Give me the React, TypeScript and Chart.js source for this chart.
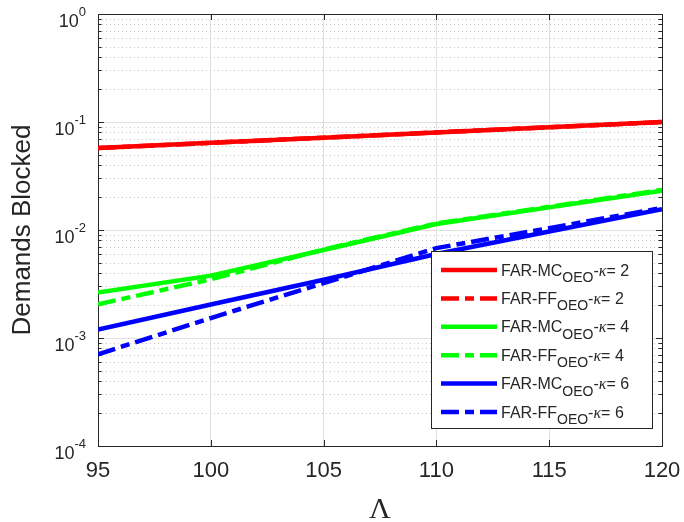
import React, { useEffect, useRef } from 'react';
import { Chart, registerables } from 'chart.js';

Chart.register(...registerables);

// ---- data ----
const lambda = [95, 100, 105, 110, 115, 120];
const mcK2 = [0.0574, 0.0641, 0.0716, 0.0801, 0.0895, 0.1];
const ffK2 = [0.0574, 0.0641, 0.0716, 0.0801, 0.0895, 0.0998];
const mcK4 = [0.00263, 0.00378, 0.00653, 0.01137, 0.0162, 0.0231];
const ffK4 = [0.00205, 0.0035, 0.0066, 0.0115, 0.0164, 0.0235];
const mcK6 = [0.0012, 0.00204, 0.00346, 0.006, 0.0097, 0.0156];
const ffK6 = [0.000706, 0.00153, 0.00322, 0.0068, 0.0104, 0.016];

const xTicks = [95, 100, 105, 110, 115, 120];
const yTickExponents = [0, -1, -2, -3, -4];
const yTickBase = '10';

const seriesBase = ['FAR-MC', 'FAR-FF', 'FAR-MC', 'FAR-FF', 'FAR-MC', 'FAR-FF'];
const seriesSub = 'OEO';
const seriesKappa = [2, 2, 4, 4, 6, 6];
const seriesValues = [mcK2, ffK2, mcK4, ffK4, mcK6, ffK6];

const xTitle = 'Λ';
const yTitle = 'Demands Blocked';

// ---- styles ----
const seriesColors = ['#ff0000', '#ff0000', '#00ff00', '#00ff00', '#0000ff', '#0000ff'];
const seriesDashed = [false, true, false, true, false, true];
const DASH = [18, 6, 9, 6];
const AXIS = '#262626';
const SANS = "'Liberation Sans', Arial, sans-serif";
const SERIF = "'Liberation Serif', 'Times New Roman', serif";

const matlabPlugin = {
  id: 'matlabLook',
  beforeDatasetsDraw(chart: any) {
    const { ctx, chartArea, scales } = chart;
    const { left, right, top, bottom } = chartArea;
    const y = scales.y;
    const x = scales.x;
    ctx.save();
    // minor y grid (dotted)
    ctx.strokeStyle = '#c4c4c4';
    ctx.lineWidth = 1;
    ctx.setLineDash([1, 3]);
    for (let e = -4; e < 0; e++) {
      for (let m = 2; m <= 9; m++) {
        const py = Math.round(y.getPixelForValue(m * Math.pow(10, e))) + 0.5;
        ctx.beginPath();
        ctx.moveTo(left, py);
        ctx.lineTo(right, py);
        ctx.stroke();
      }
    }
    ctx.setLineDash([]);
    // major y grid
    ctx.strokeStyle = '#dfdfdf';
    yTickExponents.forEach((e) => {
      const py = Math.round(y.getPixelForValue(Math.pow(10, e))) + 0.5;
      ctx.beginPath();
      ctx.moveTo(left, py);
      ctx.lineTo(right, py);
      ctx.stroke();
    });
    // box
    ctx.strokeStyle = AXIS;
    ctx.lineWidth = 1;
    ctx.strokeRect(Math.round(left) + 0.5, Math.round(top) + 0.5, Math.round(right - left), Math.round(bottom - top));
    // ticks
    ctx.beginPath();
    xTicks.forEach((v) => {
      const px = Math.round(x.getPixelForValue(v)) + 0.5;
      ctx.moveTo(px, bottom);
      ctx.lineTo(px, bottom - 6);
      ctx.moveTo(px, top);
      ctx.lineTo(px, top + 6);
    });
    yTickExponents.forEach((e) => {
      const py = Math.round(y.getPixelForValue(Math.pow(10, e))) + 0.5;
      ctx.moveTo(left, py);
      ctx.lineTo(left + 6, py);
      ctx.moveTo(right, py);
      ctx.lineTo(right - 6, py);
    });
    for (let e = -4; e < 0; e++) {
      for (let m = 2; m <= 9; m++) {
        const py = Math.round(y.getPixelForValue(m * Math.pow(10, e))) + 0.5;
        ctx.moveTo(left, py);
        ctx.lineTo(left + 3.5, py);
        ctx.moveTo(right, py);
        ctx.lineTo(right - 3.5, py);
      }
    }
    ctx.stroke();
    // y tick labels with superscripts
    ctx.fillStyle = AXIS;
    ctx.textBaseline = 'alphabetic';
    ctx.textAlign = 'left';
    const labelRight = left - 12;
    yTickExponents.forEach((e) => {
      const py = y.getPixelForValue(Math.pow(10, e));
      const sup = String(e);
      ctx.font = `13px ${SANS}`;
      const ws = ctx.measureText(sup).width;
      ctx.font = `18px ${SANS}`;
      const wb = ctx.measureText(yTickBase).width;
      ctx.fillText(yTickBase, labelRight - ws - wb, py + 12.7);
      ctx.font = `13px ${SANS}`;
      ctx.fillText(sup, labelRight - ws, py + 1.5);
    });
    ctx.restore();
  },
  afterDatasetsDraw(chart: any) {
    const { ctx, chartArea } = chart;
    const { right } = chartArea;
    ctx.save();
    const bx0 = 431.5;
    const bx1 = Math.round(right) - 9.5;
    const by0 = 251.5;
    const by1 = 428.5;
    ctx.fillStyle = '#ffffff';
    ctx.fillRect(bx0, by0, bx1 - bx0, by1 - by0);
    ctx.strokeStyle = AXIS;
    ctx.lineWidth = 1;
    ctx.strokeRect(bx0, by0, bx1 - bx0, by1 - by0);
    const rowH = 28.4;
    seriesBase.forEach((name, i) => {
      const cy = 270 + i * rowH;
      ctx.strokeStyle = seriesColors[i];
      ctx.lineWidth = 4.5;
      ctx.lineCap = 'butt';
      ctx.setLineDash(seriesDashed[i] ? DASH : []);
      ctx.beginPath();
      ctx.moveTo(441, cy);
      ctx.lineTo(497, cy);
      ctx.stroke();
      ctx.setLineDash([]);
      ctx.fillStyle = AXIS;
      ctx.textBaseline = 'alphabetic';
      ctx.textAlign = 'left';
      let tx = 501;
      ctx.font = `16px ${SANS}`;
      ctx.fillText(name, tx, cy + 5.5);
      tx += ctx.measureText(name).width;
      ctx.font = `14px ${SANS}`;
      ctx.fillText(seriesSub, tx, cy + 12);
      tx += ctx.measureText(seriesSub).width;
      ctx.font = `16px ${SANS}`;
      ctx.fillText('-', tx, cy + 5.5);
      tx += ctx.measureText('-').width;
      ctx.font = `italic 16px ${SERIF}`;
      ctx.fillText('κ', tx, cy + 5.5);
      tx += ctx.measureText('κ').width;
      ctx.font = `16px ${SANS}`;
      ctx.fillText('= ' + seriesKappa[i], tx, cy + 5.5);
    });
    ctx.restore();
  },
};

export default function App() {
  const ref = useRef<HTMLCanvasElement | null>(null);
  useEffect(() => {
    document.body.style.margin = '0';
    const canvas = ref.current;
    if (!canvas) return;
    const datasets = seriesValues.map((vals, i) => ({
      label: `${seriesBase[i]}${seriesSub}-κ= ${seriesKappa[i]}`,
      data: lambda.map((l, j) => ({ x: l, y: vals[j] })),
      borderColor: seriesColors[i],
      backgroundColor: seriesColors[i],
      borderWidth: 4.5,
      borderDash: seriesDashed[i] ? DASH : [],
      borderCapStyle: 'butt' as const,
      pointRadius: 0,
      tension: 0,
      fill: false,
      order: -i,
    }));
    const chart = new Chart(canvas, {
      type: 'line',
      data: { datasets },
      options: {
        animation: false,
        responsive: false,
        devicePixelRatio: 1,
        layout: { padding: { left: 0, right: 22, top: 14, bottom: 0 } },
        plugins: { legend: { display: false }, tooltip: { enabled: false } },
        scales: {
          x: {
            type: 'linear',
            min: 95,
            max: 120,
            afterFit: (s: any) => {
              s.height = 76;
              s.paddingLeft = 0;
              s.paddingRight = 0;
            },
            afterBuildTicks: (s: any) => { s.ticks = xTicks.map((v) => ({ value: v })); },
            ticks: {
              color: AXIS,
              padding: 12,
              font: { family: SANS, size: 22 },
              maxRotation: 0,
            },
            grid: { color: '#dfdfdf', drawTicks: false, lineWidth: 1 },
            border: { display: true, color: AXIS, width: 1 },
            title: {
              display: true,
              text: xTitle,
              color: AXIS,
              font: { family: SERIF, size: 30, lineHeight: 1 },
              padding: { top: 0, bottom: -3 },
            },
          },
          y: {
            type: 'logarithmic',
            min: 1e-4,
            max: 1,
            afterFit: (s: any) => {
              s.width = 98;
              s.paddingTop = 0;
              s.paddingBottom = 0;
            },
            ticks: { display: false },
            grid: { display: false, drawTicks: false },
            border: { display: true, color: AXIS, width: 1 },
            title: {
              display: true,
              text: yTitle,
              color: AXIS,
              font: { family: SANS, size: 26, lineHeight: 1.2 },
              padding: { top: 7, bottom: 0 },
            },
          },
        },
      },
      plugins: [matlabPlugin],
    });
    return () => chart.destroy();
  }, []);
  return (
    <div style={{ width: 684, height: 522 }}>
      <canvas ref={ref} width={684} height={522} style={{ display: 'block' }} />
    </div>
  );
}
